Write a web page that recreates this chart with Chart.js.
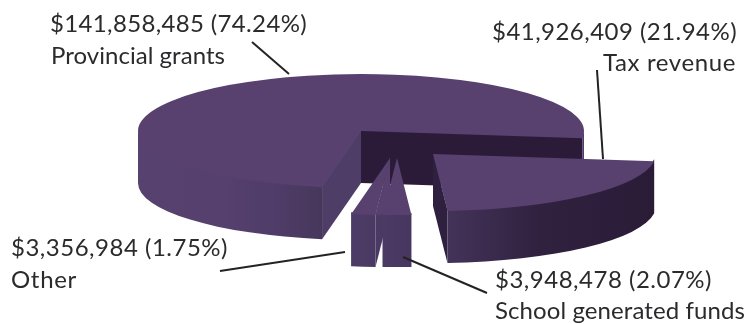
<!DOCTYPE html>
<html>
<head>
<meta charset="utf-8">
<script src="https://cdn.jsdelivr.net/npm/chart.js@4"></script>
<style>
  html, body { margin: 0; padding: 0; background: #fff; }
  canvas { display: block; }
</style>
</head>
<body>
<canvas id="revenue" width="747" height="324"></canvas>
<script>
const categories = ['Tax revenue', 'School generated funds', 'Other', 'Provincial grants'];
const amounts = [41926409, 3948478, 3356984, 141858485];
const percents = ['21.94', '2.07', '1.75', '74.24'];

const RADIUS = 223;
const SQUASH = 57 / 223;
const DEPTH = 52;
const TOP_COLOR = '#58416f';
const TEXT_COLOR = '#2b2a2c';

// where each slice's apex sits once the pie is pulled apart, same order as categories
const apexes = [[433, 154], [397, 158], [390, 158], [361, 131]];
const paintOrder = [3, 0, 2, 1];

// wall shading: outer rim stops, then the two cut faces
const rimStops = [
  [[0, '#433359'], [0.45, '#30213f'], [1, '#2a1c37']],
  [[0, '#4a3a64'], [1, '#463660']],
  [[0, '#4c3b66'], [1, '#4a3a63']],
  [[0, '#57416f'], [0.45, '#56406e'], [0.75, '#4f3c68'], [1, '#47375b']],
];
const startCutColors = ['#2f2040', '#4b3a63', [TOP_COLOR, '#4a3a63'], '#4e3d66'];
const endCutColors = ['#2f2040', '#463660', '#4a3a63', '#2b1b38'];

// text blocks: slice, amount line x / baseline / width, name line x / baseline / width
const labelSpots = [
  [3, 50, 32, 257, 51, 64, 174],
  [0, 492, 40, 245, 603, 71, 133],
  [2, 11, 256, 217, 11, 288, 66],
  [1, 495, 288, 217, 495, 319, 250],
];
const leaders = [
  [[252, 42], [289, 74]],
  [[597, 70], [603, 159]],
  [[220, 271], [345, 252]],
  [[403, 257], [487, 293]],
];

const money = (n) => '$' + n.toLocaleString('en-US');

function rimPath(ctx, cx, cy, from, to) {
  ctx.beginPath();
  // upper edge tucked under the top face so no seam shows through
  ctx.ellipse(cx, cy - 2, RADIUS, RADIUS * SQUASH, 0, from, to);
  ctx.ellipse(cx, cy + DEPTH, RADIUS, RADIUS * SQUASH, 0, to, from, true);
  ctx.closePath();
}

function drawRim(ctx, cx, cy, start, end, stops) {
  // only the part of the rim facing the viewer, sin(angle) > 0
  const tau = Math.PI * 2;
  for (let k = 0; k < 2; k++) {
    const from = Math.max(start, k * tau);
    const to = Math.min(end, k * tau + Math.PI);
    if (to <= from) continue;
    const x0 = cx + RADIUS * Math.cos(to);
    const x1 = cx + RADIUS * Math.cos(from);
    const fill = ctx.createLinearGradient(Math.min(x0, x1), 0, Math.max(x0, x1), 0);
    stops.forEach(([at, color]) => fill.addColorStop(at, color));
    ctx.fillStyle = fill;
    rimPath(ctx, cx, cy, from, to);
    ctx.fill();
  }
}

function drawCut(ctx, cx, cy, angle, color) {
  const x = cx + RADIUS * Math.cos(angle);
  const y = cy + RADIUS * SQUASH * Math.sin(angle);
  if (Array.isArray(color)) {
    // face colour above the rim line, wall colour below it
    const fill = ctx.createLinearGradient(0, y - 1, 0, y + 1);
    fill.addColorStop(0, color[0]);
    fill.addColorStop(1, color[1]);
    ctx.fillStyle = fill;
  } else {
    ctx.fillStyle = color;
  }
  ctx.beginPath();
  ctx.moveTo(cx, cy - 1);
  ctx.lineTo(x, y - 1);
  ctx.lineTo(x, y + DEPTH);
  ctx.lineTo(cx, cy + DEPTH);
  ctx.closePath();
  ctx.fill();
}

function fitText(ctx, text, x, y, width) {
  ctx.letterSpacing = '0px';
  const extra = (width - ctx.measureText(text).width) / text.length;
  ctx.letterSpacing = extra.toFixed(3) + 'px';
  ctx.fillText(text, x, y);
}

const extrudedPie = {
  id: 'extrudedPie',
  beforeDatasetsDraw(chart) {
    const { ctx } = chart;
    const arcs = chart.getDatasetMeta(0).data;

    paintOrder.forEach((i) => {
      const arc = arcs[i];
      const [cx, cy] = apexes[i];

      if (Math.cos(arc.startAngle) < 0) drawCut(ctx, cx, cy, arc.startAngle, startCutColors[i]);
      if (Math.cos(arc.endAngle) > 0) drawCut(ctx, cx, cy, arc.endAngle, endCutColors[i]);
      drawRim(ctx, cx, cy, arc.startAngle, arc.endAngle, rimStops[i]);

      // top face is the library's own arc, flattened onto the ellipse
      ctx.save();
      ctx.translate(cx, cy);
      ctx.scale(1, SQUASH);
      ctx.translate(-arc.x, -arc.y);
      arc.draw(ctx);
      ctx.restore();
    });

    return false;
  },
  afterDraw(chart) {
    const { ctx } = chart;
    ctx.save();

    ctx.strokeStyle = '#232224';
    ctx.lineWidth = 2;
    leaders.forEach(([a, b]) => {
      ctx.beginPath();
      ctx.moveTo(a[0], a[1]);
      ctx.lineTo(b[0], b[1]);
      ctx.stroke();
    });

    ctx.fillStyle = TEXT_COLOR;
    ctx.font = '24px Lato';
    ctx.textBaseline = 'alphabetic';
    labelSpots.forEach(([i, x1, y1, w1, x2, y2, w2]) => {
      fitText(ctx, `${money(amounts[i])} (${percents[i]}%)`, x1, y1, w1);
      fitText(ctx, categories[i], x2, y2, w2);
    });

    ctx.restore();
  },
};

new Chart(document.getElementById('revenue'), {
  type: 'pie',
  data: {
    labels: categories,
    datasets: [{
      data: amounts,
      backgroundColor: TOP_COLOR,
      borderWidth: 0,
    }],
  },
  options: {
    responsive: false,
    animation: false,
    rotation: 97.3,
    radius: RADIUS,
    plugins: {
      legend: { display: false },
      tooltip: { enabled: false },
    },
  },
  plugins: [extrudedPie],
});
</script>
</body>
</html>
